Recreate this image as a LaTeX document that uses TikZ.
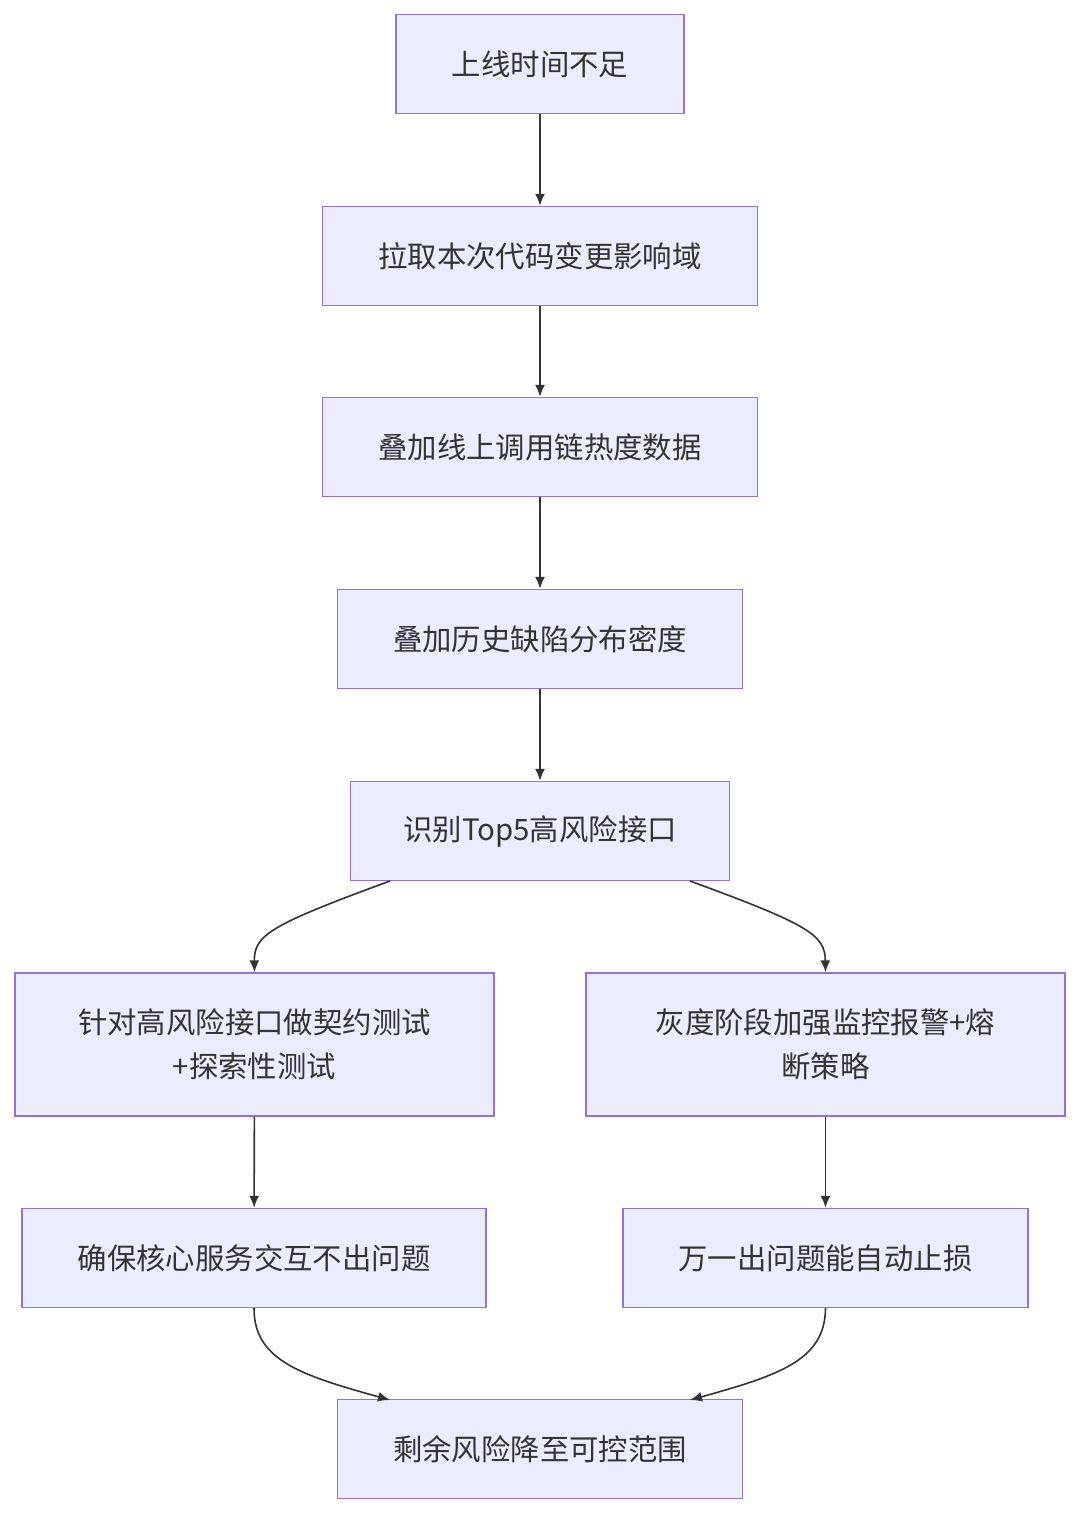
\documentclass[tikz,border=0pt]{standalone}
\usepackage{fontspec}
\setmainfont{Noto Sans CJK SC}
\usetikzlibrary{arrows.meta}
\definecolor{boxfill}{HTML}{ECECFF}
\definecolor{boxline}{HTML}{9370DB}
\definecolor{linecol}{HTML}{333333}
\begin{document}
\begin{tikzpicture}[x=0.5pt,y=-0.5pt,
  box/.style={draw=boxline,fill=boxfill,line width=0.7pt,minimum height=49.5pt,
    inner sep=0pt,font=\fontsize{14.7}{22}\selectfont,text=linecol,align=center},
  arr/.style={draw=linecol,line width=0.8pt,-{Latex[length=6pt,width=5pt]}}]
  \useasboundingbox (0,0) rectangle (1080,1515);
  % main chain
  \node[box,minimum width=144pt] (start) at (540,64) {上线时间不足};
  \node[box,minimum width=217.5pt] (scope) at (540,256) {拉取本次代码变更影响域};
  \node[box,minimum width=217.5pt] (heat) at (540,447) {叠加线上调用链热度数据};
  \node[box,minimum width=202.5pt] (defect) at (540,639) {叠加历史缺陷分布密度};
  \node[box,minimum width=189.5pt] (top) at (540,831) {识别Top5高风险接口};
  % two branches
  \node[box,minimum width=239.5pt,minimum height=71.5pt] (test) at (254.5,1044.5) {针对高风险接口做契约测试\\+探索性测试};
  \node[box,minimum width=239.5pt,minimum height=71.5pt] (gray) at (825.5,1044.5) {灰度阶段加强监控报警+熔\\断策略};
  \node[box,minimum width=232pt] (core) at (254,1258) {确保核心服务交互不出问题};
  \node[box,minimum width=202.5pt] (stop) at (825.5,1258) {万一出问题能自动止损};
  \node[box,minimum width=202.5pt] (rest) at (540,1449) {剩余风险降至可控范围};
  % connectors
  \draw[arr] (start) -- (scope);
  \draw[arr] (scope) -- (heat);
  \draw[arr] (heat) -- (defect);
  \draw[arr] (defect) -- (top);
  \coordinate (tl) at (390,881);
  \coordinate (tr) at (690,881);
  \draw[arr] (tl) .. controls (270,925) and (254,935) .. (test.north);
  \draw[arr] (tr) .. controls (810,925) and (825,935) .. (gray.north);
  \draw[arr] (test) -- (core);
  \draw[arr] (gray) -- (stop);
  \coordinate (bl) at (390,1400);
  \coordinate (br) at (690,1400);
  \draw[arr] (core.south) .. controls (254,1360) and (300,1375) .. (bl);
  \draw[arr] (stop.south) .. controls (825,1360) and (780,1375) .. (br);
\end{tikzpicture}
\end{document}
